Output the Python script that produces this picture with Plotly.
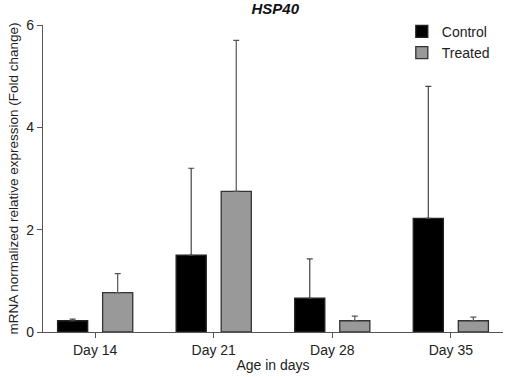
import plotly.graph_objects as go

categories = ["Day 14", "Day 21", "Day 28", "Day 35"]
control_mean = [0.22, 1.50, 0.66, 2.22]
control_err = [0.03, 1.70, 0.77, 2.58]
treated_mean = [0.77, 2.75, 0.22, 0.22]
treated_err = [0.37, 2.95, 0.09, 0.07]
y_ticks = [0, 2, 4, 6]

FONT = "Liberation Sans, Arial, sans-serif"
x_idx = list(range(len(categories)))

fig = go.Figure()
fig.add_trace(go.Bar(
    name="Control", x=x_idx, y=control_mean,
    width=0.254, offset=-0.317,
    marker=dict(color="#000000", line=dict(color="#222222", width=1.3)),
    error_y=dict(type="data", array=control_err, arrayminus=[0]*4, symmetric=False,
                 color="#444444", thickness=1.2, width=3),
))
fig.add_trace(go.Bar(
    name="Treated", x=x_idx, y=treated_mean,
    width=0.254, offset=0.063,
    marker=dict(color="#999999", line=dict(color="#333333", width=1.3)),
    error_y=dict(type="data", array=treated_err, arrayminus=[0]*4, symmetric=False,
                 color="#555555", thickness=1.2, width=3),
))

fig.update_layout(
    width=505, height=377,
    margin=dict(l=43, r=2, t=25, b=45, autoexpand=False),
    paper_bgcolor="white", plot_bgcolor="white",
    font=dict(family=FONT, size=14, color="#222222"),
    title=dict(text="<b><i>HSP40</i></b>", x=0.545, xanchor="center", y=0.992, yanchor="top",
               font=dict(family=FONT, size=15, color="#111111")),
    showlegend=True,
    legend=dict(x=0.78, y=1.03, xanchor="left", yanchor="top", bgcolor="rgba(0,0,0,0)",
                font=dict(family=FONT, size=14, color="#222222"), tracegroupgap=2),
    xaxis=dict(
        tickmode="array", tickvals=x_idx, ticktext=categories,
        range=[-0.44, 3.44], showgrid=False, zeroline=False,
        showline=True, linecolor="#555555", linewidth=1.2,
        ticks="outside", ticklen=5, tickcolor="#555555",
        title=dict(text="Age in days", standoff=3, font=dict(size=14)),
        automargin=False,
    ),
    yaxis=dict(
        range=[0, 6], tickvals=y_ticks, showgrid=False, zeroline=False,
        showline=True, linecolor="#555555", linewidth=1.2,
        ticks="outside", ticklen=5, tickcolor="#555555",
        title=dict(text="mRNA normalized relative expression (Fold change)", standoff=4,
                   font=dict(size=13.5)),
        automargin=False,
    ),
)

fig.write_html("out.html", config={"displayModeBar": False})

with open("out.html", "r", encoding="utf-8") as f:
    html = f.read()
html = html.replace("<head>", "<head><style>html,body{margin:0;padding:0;overflow:hidden;}</style>", 1)
with open("out.html", "w", encoding="utf-8") as f:
    f.write(html)
